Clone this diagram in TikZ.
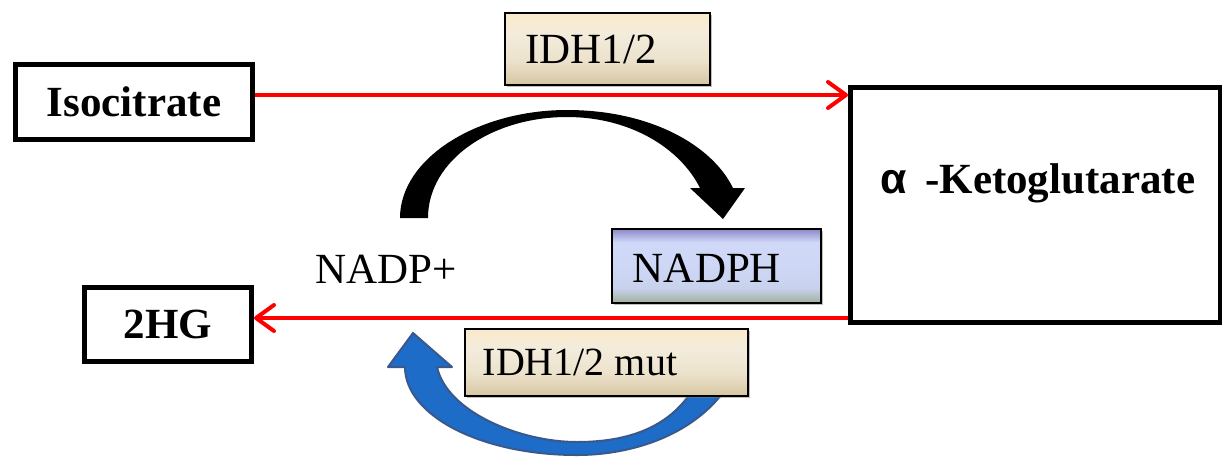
\documentclass[tikz,border=0pt]{standalone}
\usepackage{fontspec}
\setmainfont{Liberation Serif}
\newfontfamily\alphafont{Liberation Sans}
\usetikzlibrary{arrows.meta,shadows}
\definecolor{redline}{RGB}{255,0,0}
\definecolor{beigeT}{RGB}{250,234,204}
\definecolor{beigeM}{RGB}{243,236,220}
\definecolor{beigeL}{RGB}{236,226,204}
\definecolor{beigeB}{RGB}{214,198,162}
\definecolor{blueT}{RGB}{138,138,198}
\definecolor{blueM}{RGB}{208,216,248}
\definecolor{blueL}{RGB}{200,210,236}
\definecolor{blueB}{RGB}{160,176,158}
\definecolor{arrowblue}{RGB}{28,108,200}
\definecolor{arrowblueedge}{RGB}{58,88,140}
\pgfdeclareverticalshading{beigeshade}{100bp}{color(0bp)=(beigeB); color(25bp)=(beigeB); color(42bp)=(beigeL); color(60bp)=(beigeM); color(75bp)=(beigeT); color(100bp)=(beigeT)}
\pgfdeclareverticalshading{lavshade}{100bp}{color(0bp)=(blueB); color(25bp)=(blueB); color(35bp)=(blueL); color(55bp)=(blueM); color(66bp)=(blueM); color(75bp)=(blueT); color(100bp)=(blueT)}
\tikzset{
  blackbox/.style={draw=black, line width=5pt, fill=white, inner sep=0pt,
     font=\fontsize{43}{50}\selectfont\bfseries},
  gradbox/.style={draw=black, line width=1.5pt, inner sep=0pt,
     drop shadow={shadow xshift=2pt, shadow yshift=-2pt, opacity=0.5}},
  beige/.style={gradbox, shading=beigeshade, shading angle=0},
  lavender/.style={gradbox, shading=lavshade, shading angle=0},
  plaintext/.style={inner sep=0pt, font=\fontsize{43}{50}\selectfont},
  redarrow/.style={draw=redline, line width=4pt,
     -{Straight Barb[length=18pt,width=26pt,round]}},
}
\begin{document}
\begin{tikzpicture}[x=1pt, y=-1pt]
\useasboundingbox[fill=white] (0,0) rectangle (1222,456);

% main boxes
\node[blackbox, minimum width=237pt, minimum height=75pt] (iso) at (134,102) {Isocitrate};
\node[blackbox, minimum width=167pt, minimum height=74pt] (hg) at (168,324.5) {2HG};
\node[blackbox, minimum width=370pt, minimum height=235pt] (akg) at (1035.5,205) {};
\node[plaintext, font=\fontsize{43}{50}\selectfont\bfseries] (akglabel) at (1038,183) {{\alphafont α}\ \,-Ketoglutarate};

% red arrows
\draw[redarrow] (iso.east |- 0,95) -- (akg.west |- 0,95);
\draw[redarrow] (akg.west |- 0,318) -- (hg.east |- 0,318);

% black curved arrow
\fill[black] (400,218) .. controls (400,158) and (478,110) .. (567,110)
   .. controls (650,110) and (712,145) .. (733,188)
   -- (745,188) -- (723,219) -- (690,188) -- (700,188)
   .. controls (680,148) and (630,117) .. (567,117)
   .. controls (492,117) and (428,160) .. (428,218) -- cycle;

% blue curved arrow (behind the mut box)
\filldraw[fill=arrowblue, draw=arrowblueedge, line width=2pt, line join=round]
   (748,332) .. controls (735,420) and (650,455) .. (577,455)
   .. controls (480,455) and (405,415) .. (405,367)
   -- (388,367) -- (413,333) -- (452,367) -- (437,367)
   .. controls (447,412) and (520,442) .. (577,442)
   .. controls (640,442) and (700,420) .. (712,332) -- cycle;

% labels
\node[beige, minimum width=205pt, minimum height=72pt] (idh) at (607.5,49) {};
\node[plaintext] (idhtext) at (591,49) {IDH1/2};
\node[lavender, minimum width=209pt, minimum height=74pt] (nadph) at (716.5,266) {};
\node[plaintext] (nadphtext) at (707,268) {NADPH};
\node[beige, minimum width=283pt, minimum height=67pt] (mut) at (606.5,362.5) {};
\node[plaintext, font=\fontsize{40}{46}\selectfont] (muttext) at (580,362) {IDH1/2 mut};
\node[plaintext] (nadp) at (386.5,269) {NADP+};
\end{tikzpicture}
\end{document}
